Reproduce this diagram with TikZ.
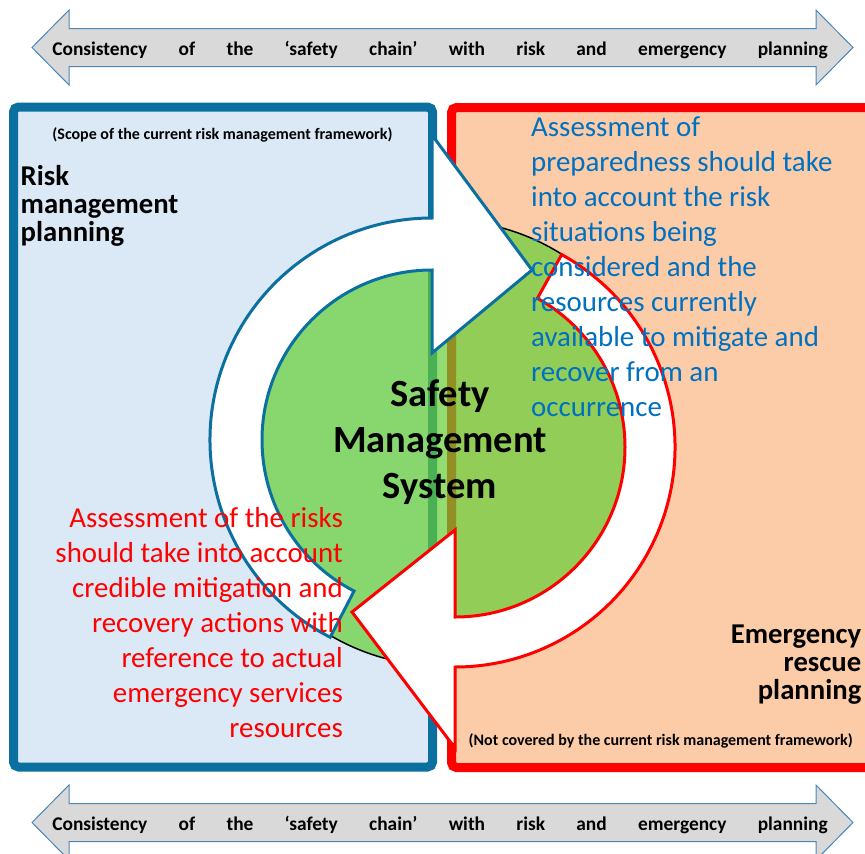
\documentclass[tikz,border=0pt]{standalone}
\usepackage{fontspec}
\setmainfont{Carlito}
\usepackage{tikz}
\usepackage{xcolor}
\usetikzlibrary{calc, positioning}

\definecolor{riskblue}{RGB}{11,112,160}
\definecolor{riskfill}{RGB}{219,233,246}
\definecolor{rescuefill}{RGB}{252,204,168}
\definecolor{smsgreen}{RGB}{100,206,53}
\definecolor{notered}{RGB}{255,0,0}
\definecolor{noteblue}{RGB}{0,112,192}
\definecolor{chaingray}{RGB}{217,217,217}
\definecolor{chainedge}{RGB}{74,134,184}

\begin{document}
\begin{tikzpicture}[x=1pt, y=-1pt,
    chainband/.style={fill=chaingray, draw=chainedge, line width=1pt, line join=miter},
    chaintext/.style={font=\bfseries\fontsize{19.4}{22}\selectfont, inner sep=0pt},
    boxframe/.style={line width=9pt, rounded corners=5pt},
    turnarrow/.style={fill=white, line width=3pt, line join=miter},
    bigbold/.style={font=\bfseries\fontsize{28.7}{28}\selectfont, inner sep=0pt},
    smstext/.style={font=\bfseries\fontsize{38.5}{46}\selectfont, inner sep=0pt},
    note/.style={font=\fontsize{28.9}{35}\selectfont, inner sep=0pt},
    scopenote/.style={font=\bfseries\fontsize{16}{18}\selectfont, inner sep=0pt}]
    \useasboundingbox (0,0) rectangle (865,854);
    \clip (0,0) rectangle (865,854);
    \fill[white] (0,0) rectangle (865,854);
    \draw[boxframe, draw=riskblue, fill=riskfill] (13.5,107) rectangle (432.5,767);
    \draw[boxframe, draw=notered, fill=rescuefill] (451.5,107.5) rectangle (880,767.5);
    \draw[fill=smsgreen, fill opacity=0.7, line width=1.5pt] (443,443) circle[radius=223];
    \draw[turnarrow, draw=riskblue]
    (432,440) ++(-242.7:222) arc[start angle=-242.7, end angle=-90, radius=222]
    -- (432,135) -- (532,270) -- (432,353) -- (432,270)
    arc[start angle=-90, end angle=-242.7, radius=170] -- cycle;
    \draw[turnarrow, draw=notered]
    (455,447) ++(-61:220) arc[start angle=-61, end angle=90, radius=220]
    -- (455,748) -- (352,612) -- (455,530) -- (455,617)
    arc[start angle=90, end angle=-61, radius=170] -- cycle;
    \foreach \c/\name in {47.5/top, 822.5/bottom} {
        \draw[chainband] (32,\c) -- (69,\c-37.5) -- (69,\c-19) -- (816,\c-19) -- (816,\c-37.5)
        -- (853,\c) -- (816,\c+37.5) -- (816,\c+19) -- (69,\c+19) -- (69,\c+37.5) -- cycle;
        \node[chaintext, anchor=base] (\name band) at (440,\c+7.5)
        {\makebox[775.4pt][s]{Consistency of the ‘safety chain’ with risk and emergency planning}};
    }
    \node[scopenote, anchor=base] (scope) at (222.5,139.3) {(Scope of the current risk management framework)};
    \node[scopenote, anchor=base] (notcovered) at (660.8,745.7) {(Not covered by the current risk management framework)};
    \foreach \txt [count=\i] in {Risk, management, planning}
        \node[bigbold, anchor=base west] (risk\i) at (20.5,156.7+28.3*\i) {\txt};
    \foreach \txt [count=\i] in {Emergency, rescue, planning}
        \node[bigbold, anchor=base east] (rescue\i) at (861.5,615+28.3*\i) {\txt};
    \foreach \txt [count=\i] in {Safety, Management, System}
        \node[smstext, anchor=base] (sms\i) at (440,360+46*\i) {\txt};
    \foreach \txt [count=\i] in {Assessment of, preparedness should take, into account the risk, situations being, considered and the, resources currently, available to mitigate and, recover from an, occurrence}
        \node[note, text=noteblue, anchor=base west] (prep\i) at (531,101+35*\i) {\txt};
    \foreach \txt [count=\i] in {Assessment of the risks, should take into account, credible mitigation and, recovery actions with, reference to actual, emergency services, resources}
        \node[note, text=notered, anchor=base east] (risks\i) at (343,492+35*\i) {\txt};
\end{tikzpicture}
\end{document}
